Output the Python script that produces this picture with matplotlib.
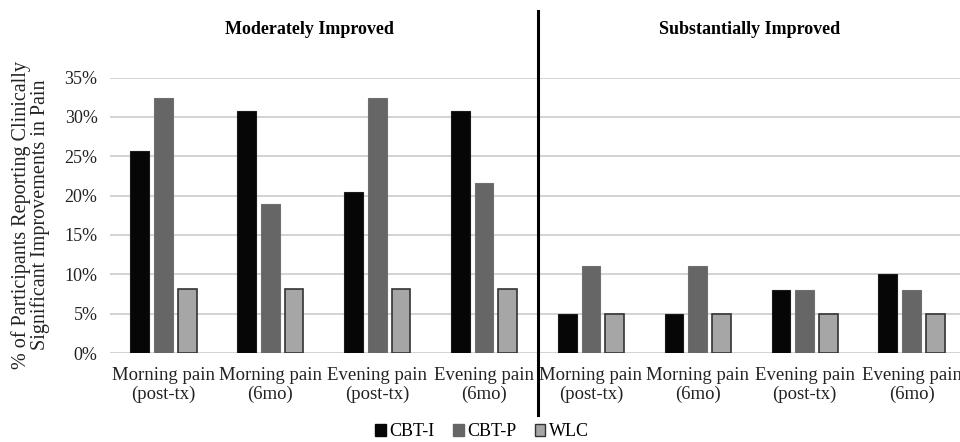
import numpy as np
import matplotlib.pyplot as plt
from matplotlib.patches import Patch

plt.rcParams['font.family'] = ['Liberation Serif', 'DejaVu Serif']

# data (percent)
categories = ["Morning pain\n(post-tx)", "Morning pain\n(6mo)", "Evening pain\n(post-tx)", "Evening pain\n(6mo)",
              "Morning pain\n(post-tx)", "Morning pain\n(6mo)", "Evening pain\n(post-tx)", "Evening pain\n(6mo)"]
cbt_i = [25.6, 30.8, 20.5, 30.8, 5.0, 5.0, 8.0, 10.0]
cbt_p = [32.4, 18.9, 32.4, 21.6, 11.0, 11.0, 8.0, 8.0]
wlc = [8.1, 8.1, 8.1, 8.1, 5.0, 5.0, 5.0, 5.0]
series_names = ["CBT-I", "CBT-P", "WLC"]
panel_titles = ["Moderately Improved", "Substantially Improved"]
yticks = [0, 5, 10, 15, 20, 25, 30, 35]

W, H = 960, 442
fig = plt.figure(figsize=(W / 100, H / 100), dpi=100)
ax = fig.add_axes([110 / W, (H - 353) / H, 855 / W, (353 - 77.5) / H])

x = np.arange(len(categories))
width = 0.175
step = 0.222
ax.bar(x - step, cbt_i, width, color="#060606", edgecolor="#1a1a1a", linewidth=0.8, zorder=3)
ax.bar(x, cbt_p, width, color="#666666", edgecolor="#707070", linewidth=0.8, zorder=3)
ax.bar(x + step, wlc, width, color="#a6a6a6", edgecolor="#333333", linewidth=1.2, zorder=3)

ax.set_xlim(-0.5, len(categories) - 0.5)
ax.set_ylim(0, 35)
ax.set_yticks(yticks)
ax.set_yticklabels([f"{t}%" for t in yticks], fontsize=13)
ax.set_xticks(x)
ax.set_xticklabels(categories, fontsize=13.5, linespacing=1.15)
ax.tick_params(axis="both", length=0, colors="#222222")
ax.tick_params(axis="x", pad=10)
ax.tick_params(axis="y", pad=9)
ax.yaxis.grid(True, color="#d0d0d0", linewidth=1.3, zorder=0)
for s in ax.spines.values():
    s.set_visible(False)

ax.set_ylabel("% of Participants Reporting Clinically\nSignificant Improvements in Pain",
              fontsize=14.5, linespacing=1.0, labelpad=10, color="#222222")

# divider between the two panels
ax.plot([3.5, 3.5], [-7.9, 43.5], color="black", linewidth=2.2, clip_on=False, zorder=4)

fig.text(309 / W, 1 - 30 / H, panel_titles[0], ha="center", va="center", fontsize=13, fontweight="bold")
fig.text(750 / W, 1 - 30 / H, panel_titles[1], ha="center", va="center", fontsize=13, fontweight="bold")

handles = [Patch(facecolor="#060606", edgecolor="#060606"),
           Patch(facecolor="#666666", edgecolor="#666666"),
           Patch(facecolor="#a6a6a6", edgecolor="#333333")]
fig.legend(handles, series_names, loc="center", bbox_to_anchor=(482 / W, 1 - 432 / H), ncol=3,
           frameon=False, fontsize=13, handlelength=0.6, handleheight=0.6, handletextpad=0.2,
           columnspacing=1.0)

fig.savefig("out.png", dpi=100)
